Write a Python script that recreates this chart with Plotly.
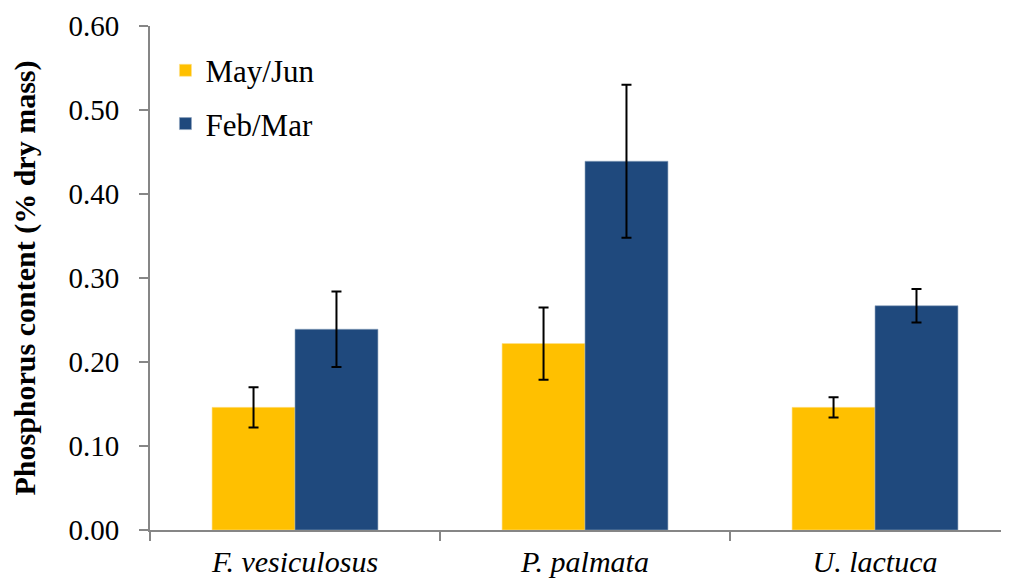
import plotly.graph_objects as go

species = ["F. vesiculosus", "P. palmata", "U. lactuca"]
may_jun = [0.146, 0.222, 0.146]
may_jun_err = [0.024, 0.043, 0.012]
feb_mar = [0.239, 0.439, 0.267]
feb_mar_err = [0.045, 0.091, 0.020]
y_ticks = [0.0, 0.1, 0.2, 0.3, 0.4, 0.5, 0.6]
y_tick_text = ["0.00", "0.10", "0.20", "0.30", "0.40", "0.50", "0.60"]

font_family = "Liberation Serif"

fig = go.Figure()
fig.add_trace(go.Bar(
    name="May/Jun", x=species, y=may_jun, legendgroup="a",
    marker=dict(color="#FFC000", line=dict(color="#FFE08A", width=0.6)),
    error_y=dict(type="data", array=may_jun_err, visible=True,
                 color="black", thickness=2, width=5),
))
fig.add_trace(go.Bar(
    name="Feb/Mar", x=species, y=feb_mar, legendgroup="b",
    marker=dict(color="#1F497D", line=dict(color="#8FA4BE", width=0.6)),
    error_y=dict(type="data", array=feb_mar_err, visible=True,
                 color="black", thickness=2, width=5),
))

fig.update_layout(
    width=1001, height=575,
    margin=dict(l=142, r=0, t=18, b=53, autoexpand=False),
    barmode="group", bargap=0.428, bargroupgap=0,
    plot_bgcolor="white", paper_bgcolor="white",
    font=dict(family=font_family, size=28, color="black"),
    showlegend=True,
    legend=dict(x=0.018, y=0.965, xanchor="left", yanchor="top",
                font=dict(size=31, family=font_family),
                bgcolor="rgba(0,0,0,0)", itemwidth=30, tracegroupgap=10),
)
fig.update_xaxes(
    type="category", range=[-0.5, 2.462], automargin=False,
    showline=True, linecolor="#868686", linewidth=2,
    ticks="outside", tickson="boundaries", ticklen=9, tickcolor="#868686", tickwidth=2,
    tickfont=dict(family=font_family, size=30, style="italic"),
    ticklabelstandoff=4,
    showgrid=False, zeroline=False,
)
fig.update_yaxes(
    range=[0, 0.6], tickvals=y_ticks, ticktext=y_tick_text, automargin=False,
    showline=True, linecolor="#868686", linewidth=2,
    ticks="outside", ticklen=9, tickcolor="#868686", tickwidth=2,
    tickfont=dict(family=font_family, size=29),
    ticklabelstandoff=14,
    showgrid=False, zeroline=False,
    title=dict(text="<b>Phosphorus content (% dry mass)</b>",
               font=dict(family=font_family, size=30), standoff=26),
)

fig.write_html("out.html")
